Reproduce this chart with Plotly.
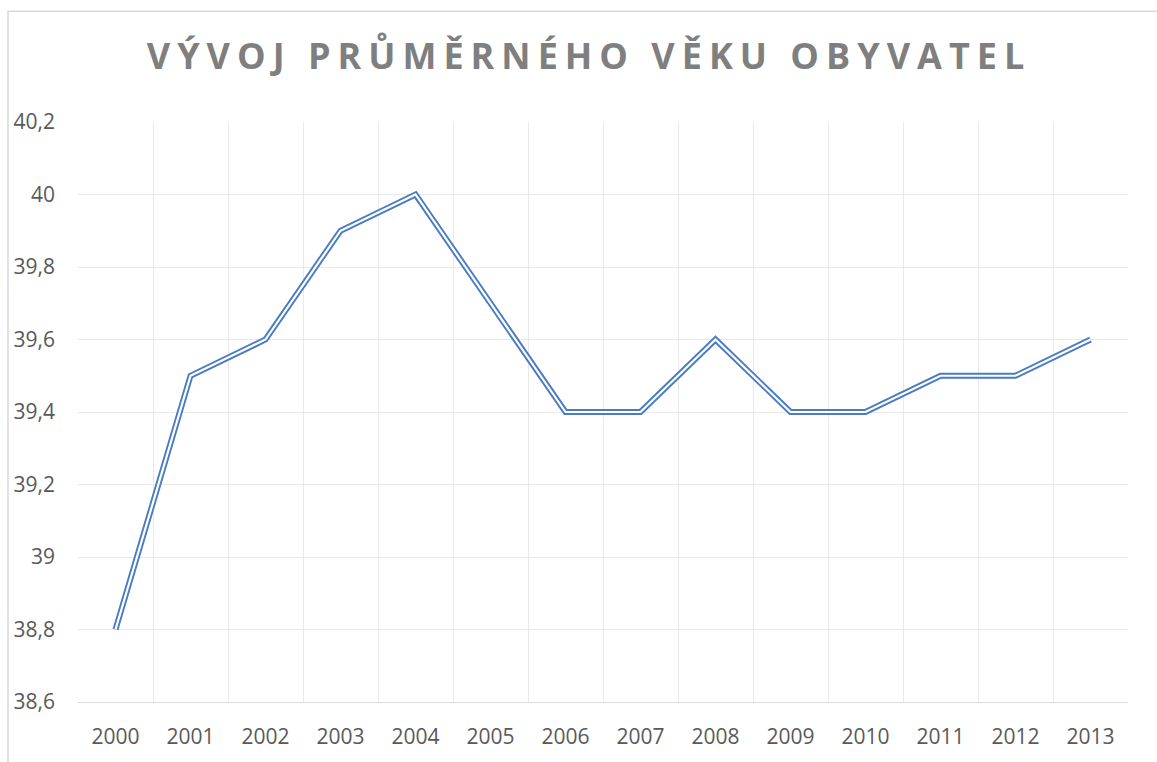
import plotly.graph_objects as go

years = ["2000", "2001", "2002", "2003", "2004", "2005", "2006",
         "2007", "2008", "2009", "2010", "2011", "2012", "2013"]
avg_age = [38.8, 39.5, 39.6, 39.9, 40.0, 39.7, 39.4,
           39.4, 39.6, 39.4, 39.4, 39.5, 39.5, 39.6]
y_ticks = [38.6, 38.8, 39.0, 39.2, 39.4, 39.6, 39.8, 40.0, 40.2]
title_text = "VÝVOJ PRŮMĚRNÉHO VĚKU OBYVATEL"

W, H = 1157, 762
L, R, T, B = 78, 29, 122, 54
pw, ph = W - L - R, H - T - B

blue = "#4a7bc3"
grid = "#e9e9e9"
text_col = "#595959"

fig = go.Figure()
# double line: thick blue with thin white core
fig.add_trace(go.Scatter(x=years, y=avg_age, mode="lines",
                         line=dict(color=blue, width=6), hoverinfo="skip",
                         showlegend=False))
fig.add_trace(go.Scatter(x=years, y=avg_age, mode="lines",
                         line=dict(color="white", width=2.2), hoverinfo="skip",
                         showlegend=False))

fig.update_layout(
    width=W, height=H,
    margin=dict(l=L, r=R, t=T, b=B, pad=0),
    paper_bgcolor="white", plot_bgcolor="white",
    separators=", ",
    font=dict(family="Open Sans", color=text_col, size=21),
    title=dict(text=title_text, x=(589 - L) / pw, xref="paper", xanchor="center",
               y=1 - 56 / H, yref="container", yanchor="middle",
               font=dict(family="Open Sans", size=36, color="#7f7f7f", weight="bold")),
    xaxis=dict(type="category", tickson="boundaries", range=[-0.5, 13.5],
               showgrid=True, gridcolor=grid, gridwidth=1,
               showline=True, linecolor="#d9d9d9", linewidth=1,
               ticks="", ticklabelstandoff=16, zeroline=False),
    yaxis=dict(range=[38.6, 40.2], tickvals=y_ticks, showgrid=True, gridcolor=grid,
               gridwidth=1, zeroline=False, showline=False, ticks="",
               ticklabelstandoff=22),
    shapes=[dict(type="rect", xref="paper", yref="paper",
                 x0=(8 - L) / pw, x1=(W + 20 - L) / pw,
                 y0=-(B + 20) / ph, y1=1 + (T - 10) / ph,
                 line=dict(color="#d9d9d9", width=1.5), layer="below")],
)

fig.write_html("out.html", config={"displayModeBar": False}, post_script=(
    "document.body.style.margin='0';"
    "document.querySelectorAll('.gtitle').forEach(function(e){"
    "e.style.letterSpacing='7px';});"))
